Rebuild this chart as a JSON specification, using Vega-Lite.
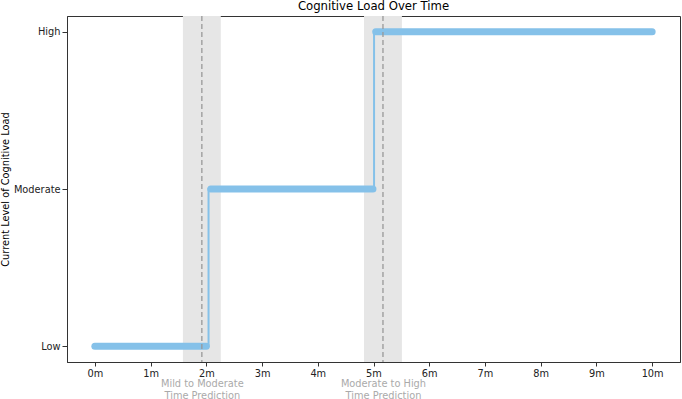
{
  "$schema": "https://vega.github.io/schema/vega-lite/v6.json",
  "autosize": "none",
  "padding": {"left": 67, "top": 16, "right": 2, "bottom": 37},
  "width": 613,
  "height": 346,
  "background": "white",
  "title": {"text": "Cognitive Load Over Time", "fontSize": 11.7, "fontWeight": "normal", "font": "DejaVu Sans", "color": "#000", "offset": 3},
  "config": {
    "view": {"stroke": "#333", "strokeWidth": 1},
    "axis": {"labelFont": "DejaVu Sans", "titleFont": "DejaVu Sans", "labelFontSize": 9.8, "titleFontSize": 9.8, "titleFontWeight": "normal", "labelColor": "#222", "titleColor": "#000", "grid": false, "domainColor": "#333", "tickColor": "#333", "tickSize": 4}
  },
  "datasets": {
    "bands": [
      {"pred": 1.92, "start": 1.58, "end": 2.26, "name": "Mild to Moderate"},
      {"pred": 5.17, "start": 4.83, "end": 5.51, "name": "Moderate to High"}
    ],
    "steps": [
      {"t": 0, "level": 0, "o": 1},
      {"t": 2.04, "level": 0, "o": 2},
      {"t": 2.04, "level": 1, "o": 3},
      {"t": 5.01, "level": 1, "o": 4},
      {"t": 5.01, "level": 2, "o": 5},
      {"t": 10, "level": 2, "o": 6}
    ],
    "segments": [
      {"start": 0, "end": 2.0, "level": 0},
      {"start": 2.08, "end": 4.99, "level": 1},
      {"start": 5.04, "end": 10, "level": 2}
    ]
  },
  "resolve": {"axis": {"x": "independent"}},
  "layer": [
    {
      "data": {"name": "bands"},
      "mark": {"type": "rect", "color": "#e6e6e6"},
      "encoding": {
        "x": {"field": "start", "type": "quantitative", "scale": {"domain": [-0.5, 10.5], "nice": false, "zero": false},
          "axis": {"values": [0,1,2,3,4,5,6,7,8,9,10], "labelExpr": "datum.value + 'm'", "title": null, "orient": "bottom", "labelPadding": 2}},
        "x2": {"field": "end"}
      }
    },
    {
      "data": {"name": "steps"},
      "mark": {"type": "line", "color": "#85c1e9", "strokeWidth": 2, "interpolate": "linear"},
      "encoding": {
        "x": {"field": "t", "type": "quantitative",
          "axis": {"values": [1.92, 5.17], "labelExpr": "datum.value < 3 ? ['Mild to Moderate', 'Time Prediction'] : ['Moderate to High', 'Time Prediction']", "title": null, "orient": "bottom", "ticks": false, "domain": false, "labelColor": "#aaaaaa", "labelPadding": 16, "labelLineHeight": 12, "labelBaseline": "top"}},
        "y": {"field": "level", "type": "quantitative", "scale": {"domain": [-0.1, 2.1], "nice": false, "zero": false},
          "axis": {"values": [0, 1, 2], "labelExpr": "datum.value == 0 ? 'Low' : datum.value == 1 ? 'Moderate' : 'High'", "title": "Current Level of Cognitive Load", "titleColor": "#000", "titleX": -62, "titleBaseline": "middle", "tickSize": 5, "labelPadding": 2}},
        "order": {"field": "o", "type": "quantitative"}
      }
    },
    {
      "data": {"name": "segments"},
      "mark": {"type": "rule", "color": "#85c1e9", "strokeWidth": 7, "strokeCap": "round"},
      "encoding": {
        "x": {"field": "start", "type": "quantitative", "axis": null},
        "x2": {"field": "end"},
        "y": {"field": "level", "type": "quantitative"}
      }
    },
    {
      "data": {"name": "bands"},
      "mark": {"type": "rule", "color": "#999999", "strokeWidth": 1.3, "strokeDash": [5, 3]},
      "encoding": {
        "x": {"field": "pred", "type": "quantitative", "axis": null}
      }
    }
  ]
}
